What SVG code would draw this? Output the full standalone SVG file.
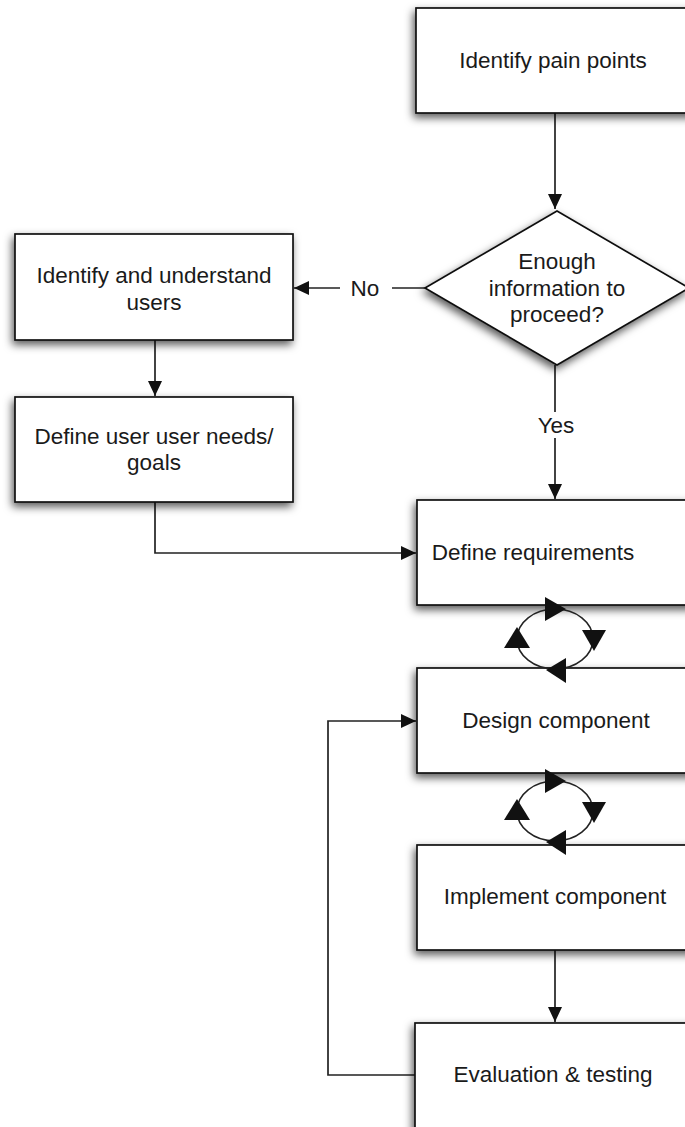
<svg xmlns="http://www.w3.org/2000/svg" width="685" height="1127" viewBox="0 0 685 1127">
<defs>
<filter id="sh" x="-20%" y="-20%" width="140%" height="150%">
<feDropShadow dx="-2" dy="4" stdDeviation="4" flood-color="#000" flood-opacity="0.65"/>
</filter>
<marker id="ah" markerUnits="userSpaceOnUse" markerWidth="16" markerHeight="14" refX="15" refY="7" orient="auto">
<path d="M0,0 L15,7 L0,14 Z" fill="#111"/>
</marker>
</defs>
<style>
.box{fill:#fff;stroke:#111;stroke-width:1.7;filter:url(#sh)}
.t{font-family:"Liberation Sans",Arial,Helvetica,sans-serif;font-size:22.5px;fill:#1a1a1a;text-anchor:middle}
.c{fill:none;stroke:#222;stroke-width:1.7}
.ah{fill:#111}
.cy{fill:none;stroke:#222;stroke-width:1.6}
</style>
<rect width="685" height="1127" fill="#fff"/>

<g id="connectors">
<path class="c" d="M555,113 V209" marker-end="url(#ah)"/>
<path class="c" d="M425,288 H392"/>
<path class="c" d="M340,288 H294" marker-end="url(#ah)"/>
<path class="c" d="M155,340 V396" marker-end="url(#ah)"/>
<path class="c" d="M155,502 V553 H416" marker-end="url(#ah)"/>
<path class="c" d="M555,365 V412"/>
<path class="c" d="M555,438 V499" marker-end="url(#ah)"/>
<path class="c" d="M555,950 V1022" marker-end="url(#ah)"/>
<path class="c" d="M415,1075 H328 V721 H416" marker-end="url(#ah)"/>
<text class="t" x="365" y="296">No</text>
<text class="t" x="556" y="433">Yes</text>
</g>

<g id="n-pain">
<rect class="box" x="416" y="8" width="290" height="105"/>
<text class="t" x="553" y="68">Identify pain points</text>
</g>

<g id="n-decision">
<polygon class="box" points="557,211 689,288 557,365 425,288"/>
<text class="t" x="557" y="269">Enough</text>
<text class="t" x="557" y="296">information to</text>
<text class="t" x="557" y="322">proceed?</text>
</g>

<g id="n-users">
<rect class="box" x="15" y="234" width="278" height="106"/>
<text class="t" x="154" y="283">Identify and understand</text>
<text class="t" x="154" y="310">users</text>
</g>

<g id="n-needs">
<rect class="box" x="15" y="397" width="278" height="105"/>
<text class="t" x="154" y="444">Define user user needs/</text>
<text class="t" x="154" y="470">goals</text>
</g>

<g id="n-req">
<rect class="box" x="417" y="500" width="290" height="105"/>
<text class="t" x="533" y="560">Define requirements</text>
</g>

<g id="n-design">
<rect class="box" x="417" y="668" width="290" height="105"/>
<text class="t" x="556" y="728">Design component</text>
</g>

<g id="n-impl">
<rect class="box" x="417" y="845" width="290" height="105"/>
<text class="t" x="555" y="904">Implement component</text>
</g>

<g id="n-eval">
<rect class="box" x="415" y="1023" width="292" height="110"/>
<text class="t" x="553" y="1082">Evaluation &amp; testing</text>
</g>

<g id="cycle-1">
<ellipse class="cy" cx="555" cy="639" rx="38" ry="30"/>
<polygon class="ah" points="545,597 566,609 545,621"/>
<polygon class="ah" points="582,630 606,630 594,651"/>
<polygon class="ah" points="566,658 546,670 566,683"/>
<polygon class="ah" points="517,627 530,648 504,648"/>
</g>

<g id="cycle-2">
<ellipse class="cy" cx="555" cy="811" rx="38" ry="30"/>
<polygon class="ah" points="545,769 566,781 545,793"/>
<polygon class="ah" points="582,802 606,802 594,823"/>
<polygon class="ah" points="566,830 546,842 566,855"/>
<polygon class="ah" points="517,799 530,820 504,820"/>
</g>
</svg>
